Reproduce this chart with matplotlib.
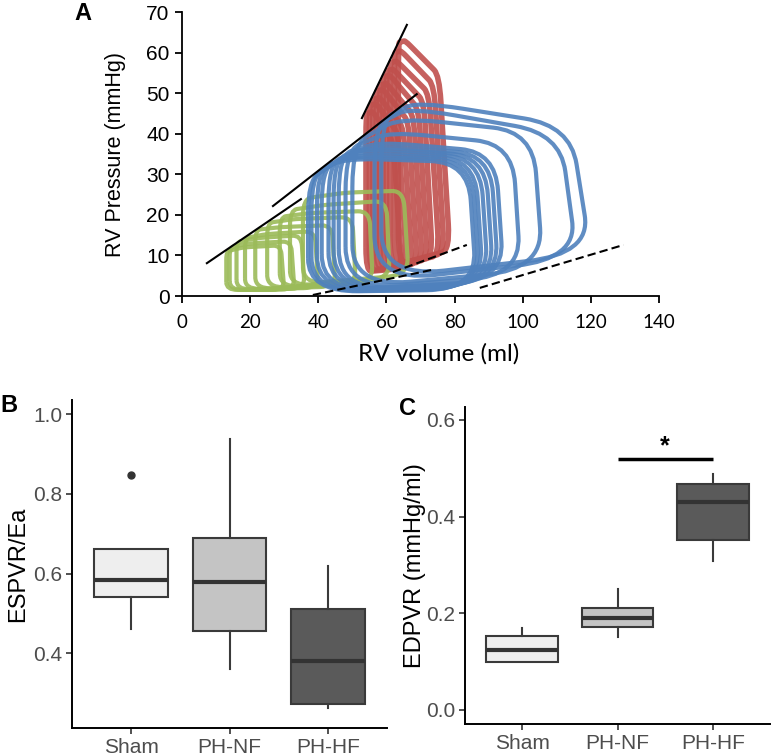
import numpy as np
import matplotlib
matplotlib.use("Agg")
import matplotlib.pyplot as plt
from matplotlib.path import Path
from matplotlib.patches import PathPatch

plt.rcParams['font.family'] = ['Liberation Sans', 'DejaVu Sans']

# ── Panel A: PV loops (one entry per loop) ────────────────────────────────────
# corners: bottom-left (esv, pmin) -> bottom-right (edv, edp) -> top-right
# (edv_top, ptop) -> peak (vpk, ppk) -> top-left (esv, esp)
sham_esv     = [13.0, 14.0, 16.0, 18.5, 21.5, 25.0, 28.7, 31.7, 35.5]
sham_esp     = [11.0, 12.0, 13.3, 14.3, 16.3, 18.0, 19.5, 21.2, 24.0]
sham_vpk     = [18.0, 20.0, 22.0, 25.0, 29.0, 33.0, 38.0, 42.0, 48.0]
sham_ppk     = [12.0, 13.0, 14.3, 15.3, 17.0, 19.0, 20.5, 22.5, 25.5]
sham_edv_top = [29.0, 32.0, 35.0, 39.0, 44.0, 50.0, 55.0, 60.0, 65.0]
sham_ptop    = [12.5, 13.5, 15.0, 16.0, 17.5, 19.5, 21.0, 23.5, 26.0]
sham_edv     = [30.0, 33.0, 36.0, 40.0, 45.0, 51.0, 56.0, 61.0, 66.5]
sham_edp     = [1.5, 1.6, 1.8, 2.0, 2.3, 2.8, 3.5, 4.3, 5.2]
sham_pmin    = [1.5, 1.5, 1.6, 1.7, 1.8, 2.0, 2.2, 2.5, 3.0]

nf_esv     = [54.0, 55.0, 56.0, 57.0, 58.0, 59.0, 60.0, 61.0, 62.3, 63.5]
nf_esp     = [45.0, 47.0, 48.5, 50.5, 52.0, 54.0, 55.5, 57.5, 60.0, 62.5]
nf_vpk     = [56.0, 57.0, 58.0, 59.0, 60.0, 61.0, 62.0, 63.0, 64.3, 65.5]
nf_ppk     = [45.5, 47.5, 49.0, 51.0, 52.5, 54.5, 56.0, 58.0, 60.5, 63.0]
nf_edv_top = [62.0, 63.5, 65.0, 66.5, 68.0, 69.5, 71.0, 72.5, 74.0, 75.5]
nf_ptop    = [38.0, 40.0, 41.5, 43.0, 44.5, 46.0, 48.0, 50.0, 52.0, 54.5]
nf_edv     = [64.5, 66.0, 67.5, 69.0, 70.5, 72.0, 73.5, 75.5, 77.0, 78.6]
nf_edp     = [6.8, 7.2, 7.6, 8.0, 8.5, 9.0, 9.5, 10.0, 10.6, 11.3]
nf_pmin    = [6.0, 6.2, 6.4, 6.6, 6.8, 7.0, 7.2, 7.4, 7.6, 7.8]

hf_esv     = [37.0, 38.0, 39.6, 41.0, 43.0, 44.5, 46.0, 48.0, 50.0, 56.5, 58.5]
hf_esp     = [28.5, 29.5, 30.5, 31.5, 32.8, 33.8, 34.8, 36.0, 37.4, 42.0, 43.5]
hf_vpk     = [47.0, 48.0, 50.0, 52.0, 54.0, 56.0, 58.0, 61.0, 64.0, 67.0, 69.0]
hf_ppk     = [34.0, 34.5, 35.0, 35.8, 36.5, 37.0, 38.0, 40.5, 44.0, 46.5, 48.0]
hf_edv_top = [84.0, 85.0, 86.0, 87.5, 89.0, 90.5, 92.0, 97.0, 103.0, 111.0, 114.0]
hf_ptop    = [33.0, 33.5, 34.0, 34.3, 34.6, 35.0, 35.5, 37.5, 40.5, 40.0, 42.0]
hf_edv     = [86.5, 87.5, 88.5, 90.0, 91.5, 93.0, 94.5, 99.5, 106.0, 116.0, 120.0]
hf_edp     = [1.6, 1.9, 2.2, 2.6, 3.0, 3.4, 3.8, 5.0, 6.6, 9.2, 10.4]
hf_pmin    = [1.0, 1.0, 1.1, 1.2, 1.3, 1.4, 1.5, 1.8, 2.2, 3.5, 4.5]

# ESPVR (solid) and EDPVR (dashed) fits: (v0, p0, v1, p1)
espvr_lines = [(7.3, 8.1, 34.9, 23.9), (26.7, 22.2, 68.9, 49.8), (52.8, 43.9, 66.0, 66.9)]
edpvr_lines = [(38.4, 0.25, 74.2, 6.6), (61.9, 5.9, 83.6, 12.6), (87.4, 2.0, 129.6, 12.6)]

# ── Panels B & C: box statistics ─────────────────────────────────────────────
groups = ['Sham', 'PH-NF', 'PH-HF']
fills = ['#EEEEEE', '#C4C4C4', '#5A5A5A']

esp_q1 = [0.542, 0.455, 0.272]
esp_med = [0.585, 0.580, 0.380]
esp_q3 = [0.662, 0.689, 0.512]
esp_lo = [0.460, 0.360, 0.262]
esp_hi = [0.662, 0.938, 0.618]
esp_out = [[0.848], [], []]

edp_q1 = [0.099, 0.171, 0.352]
edp_med = [0.124, 0.190, 0.430]
edp_q3 = [0.154, 0.210, 0.468]
edp_lo = [0.099, 0.150, 0.309]
edp_hi = [0.170, 0.250, 0.488]
edp_out = [[], [], []]

W, H = 771, 753
fig = plt.figure(figsize=(W / 100, H / 100), dpi=100)


def fax(l, r, t, b):
    return fig.add_axes([l / W, 1 - b / H, (r - l) / W, (b - t) / H])


def loop_path(xs, ys, r=0.2):
    pts = np.column_stack([xs, ys]).astype(float)
    n = len(pts)
    verts, codes = [], []
    for i in range(n):
        p0, p1, p2 = pts[i - 1], pts[i], pts[(i + 1) % n]
        a = p1 + (p0 - p1) * r
        b = p1 + (p2 - p1) * r
        verts.append(a)
        codes.append(Path.MOVETO if i == 0 else Path.LINETO)
        verts += [p1, b]
        codes += [Path.CURVE3, Path.CURVE3]
    verts.append(verts[0])
    codes.append(Path.LINETO)
    return Path(verts, codes)


def draw_loops(ax, esv, esp, vpk, ppk, edv_top, ptop, edv, edp, pmin, color, lw, r):
    for i in range(len(esv)):
        xs = [esv[i], edv[i], edv_top[i], vpk[i], esv[i]]
        ys = [pmin[i], edp[i], ptop[i], ppk[i], esp[i]]
        ax.add_patch(PathPatch(loop_path(xs, ys, r), fill=False, ec=color, lw=lw,
                               alpha=0.9, joinstyle='round'))


# ── Panel A ───────────────────────────────────────────────────────────────────
axA = fax(182, 659, 12.3, 296)
draw_loops(axA, nf_esv, nf_esp, nf_vpk, nf_ppk, nf_edv_top, nf_ptop, nf_edv,
           nf_edp, nf_pmin, '#C0504D', 4.0, 0.15)
draw_loops(axA, sham_esv, sham_esp, sham_vpk, sham_ppk, sham_edv_top, sham_ptop,
           sham_edv, sham_edp, sham_pmin, '#9BBB59', 3.0, 0.2)
draw_loops(axA, hf_esv, hf_esp, hf_vpk, hf_ppk, hf_edv_top, hf_ptop, hf_edv,
           hf_edp, hf_pmin, '#4F81BD', 3.0, 0.3)
for v0, p0, v1, p1 in espvr_lines:
    axA.plot([v0, v1], [p0, p1], color='black', lw=1.5)
for v0, p0, v1, p1 in edpvr_lines:
    axA.plot([v0, v1], [p0, p1], color='black', lw=1.5, ls=(0, (4, 2)))

axA.set_xlim(0, 140)
axA.set_ylim(0, 70)
axA.set_xticks(range(0, 141, 20))
axA.set_yticks(range(0, 71, 10))
for s in ['top', 'right']:
    axA.spines[s].set_visible(False)
for s in ['left', 'bottom']:
    axA.spines[s].set_linewidth(1.3)
axA.tick_params(direction='out', length=5, width=1.3, colors='black')
axA.tick_params(axis='y', labelsize=15, pad=4)
axA.tick_params(axis='x', labelsize=13.5, pad=8)
for t in axA.get_xticklabels():
    t.set_family('Lato')
axA.set_ylabel('RV Pressure (mmHg)', fontsize=15.5)
axA.yaxis.set_label_coords((126 - 182) / 477, 0.5)
axA.set_xlabel('RV volume (ml)', fontsize=17.5, family='Lato')
axA.xaxis.set_label_coords((439 - 182) / 477, -(343 - 296) / 283.7)


# ── Panels B & C ──────────────────────────────────────────────────────────────
def box_panel(ax, q1, med, q3, lo, hi, out):
    stats = [dict(med=med[i], q1=q1[i], q3=q3[i], whislo=lo[i], whishi=hi[i],
                  fliers=out[i]) for i in range(len(groups))]
    bp = ax.bxp(stats, positions=range(len(groups)), widths=0.75, patch_artist=True,
                showcaps=False,
                boxprops=dict(ec='#3A3A3A', lw=1.5),
                medianprops=dict(color='#333333', lw=3.0, solid_capstyle='butt'),
                whiskerprops=dict(color='#3A3A3A', lw=1.5),
                flierprops=dict(marker='o', mfc='#333333', mec='#333333', ms=5))
    for patch, c in zip(bp['boxes'], fills):
        patch.set_facecolor(c)
    ax.set_xlim(-0.6, 2.6)
    ax.set_xticks(range(len(groups)))
    ax.set_xticklabels(groups)
    for s in ['top', 'right']:
        ax.spines[s].set_visible(False)
    for s in ['left', 'bottom']:
        ax.spines[s].set_linewidth(1.4)
    ax.tick_params(direction='out', length=4.5, width=1.2, color='#333333',
                   labelcolor='#4D4D4D', labelsize=15, pad=2.5)


axB = fax(72, 387, 400, 728)
box_panel(axB, esp_q1, esp_med, esp_q3, esp_lo, esp_hi, esp_out)
axB.set_ylim(0.2125, 1.036)
axB.set_yticks([0.4, 0.6, 0.8, 1.0])
axB.set_ylabel('ESPVR/Ea', fontsize=17)
axB.yaxis.set_label_coords((29 - 72) / 315, 0.5)

axC = fax(465, 770, 406.7, 724)
box_panel(axC, edp_q1, edp_med, edp_q3, edp_lo, edp_hi, edp_out)
axC.set_ylim(-0.029, 0.6275)
axC.set_yticks([0.0, 0.2, 0.4, 0.6])
axC.set_ylabel('EDPVR (mmHg/ml)', fontsize=17)
axC.yaxis.set_label_coords((426 - 465) / 305, 0.5)
axC.plot([1, 2], [0.52, 0.52], color='black', lw=2.5, solid_capstyle='butt')
axC.text(1.5, 0.545, '*', ha='center', va='center', fontsize=18, fontweight='bold')

# panel letters
fig.text(83 / W, 1 - 13 / H, 'A', fontsize=17, fontweight='bold', ha='center', va='center')
fig.text(9 / W, 1 - 406 / H, 'B', fontsize=17, fontweight='bold', ha='center', va='center')
fig.text(407 / W, 1 - 409 / H, 'C', fontsize=17, fontweight='bold', ha='center', va='center')

fig.savefig('out.png', dpi=100, facecolor='white')
